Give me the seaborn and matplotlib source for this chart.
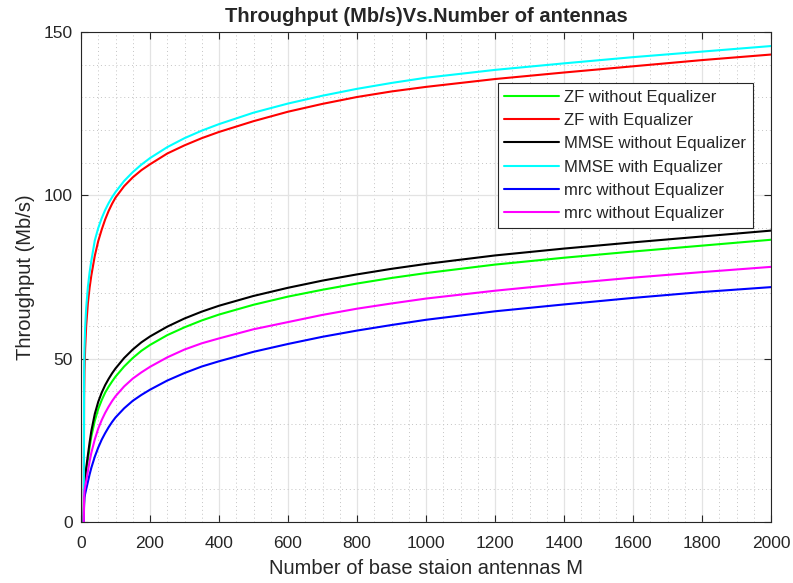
import matplotlib
matplotlib.use("Agg")
import matplotlib.pyplot as plt
import seaborn as sns
from matplotlib.ticker import MultipleLocator

# values
antennas = [8, 9, 10, 12, 15, 20, 25, 30, 40, 50, 60, 70, 80, 90, 100, 125, 150,
            175, 200, 250, 300, 350, 400, 500, 600, 700, 800, 900, 1000, 1200,
            1400, 1600, 1800, 2000]

zf_no_eq = [0, 7.5, 10.5, 12.5, 15.5, 19, 23, 26.2, 31, 34.6, 37.3, 39.6, 41.4,
            43.0, 44.5, 47.6, 50.2, 52.4, 54.2, 57.2, 59.6, 61.7, 63.5, 66.5, 69.0,
            71.1, 73.0, 74.7, 76.2, 78.8, 80.9, 82.8, 84.6, 86.4]
zf_eq = [0, 38, 46, 53, 60, 67, 71.8, 75.5, 81.5, 86, 89.5, 92.6, 95.2, 97.4,
         99.3, 102.8, 105.5, 107.7, 109.5, 112.8, 115.3, 117.5, 119.4, 122.7, 125.6,
         128, 130.1, 131.8, 133.2, 135.6, 137.6, 139.5, 141.4, 143.1]
mmse_no_eq = [0, 8, 11, 13, 16.5, 20.5, 24.4, 27.9, 33.1, 36.8, 39.6, 41.9, 43.8,
              45.5, 47, 50.2, 52.8, 55, 56.8, 59.8, 62.3, 64.4, 66.2, 69.2, 71.7,
              73.9, 75.8, 77.5, 79.0, 81.6, 83.7, 85.6, 87.4, 89.2]
mmse_eq = [0, 45, 53, 59.5, 65.5, 72, 76.5, 80, 86.2, 90, 93, 95.5, 97.6, 99.4,
           101, 104.4, 107.1, 109.4, 111.4, 114.75, 117.5, 119.8, 121.8, 125.3,
           128.1, 130.5, 132.6, 134.4, 136.0, 138.4, 140.4, 142.3, 144.0, 145.7]
mrc_a = [0, 5.5, 7.5, 8.6, 10, 12.3, 14.6, 16.6, 20.0, 22.8, 25.2, 27.2, 29.0,
         30.6, 32, 34.8, 37.1, 38.9, 40.5, 43.3, 45.6, 47.6, 49.2, 52.1, 54.5,
         56.7, 58.6, 60.3, 61.9, 64.5, 66.6, 68.6, 70.4, 71.9]
mrc_b = [0, 7, 9.5, 10.8, 12.5, 15.6, 18.6, 21.2, 25.3, 28.6, 31.2, 33.4, 35.3,
         37.0, 38.5, 41.5, 43.9, 45.8, 47.5, 50.4, 52.8, 54.7, 56.2, 59.0, 61.2,
         63.4, 65.3, 66.9, 68.4, 70.8, 72.9, 74.8, 76.5, 78.1]

labels = ["ZF without Equalizer", "ZF with Equalizer", "MMSE without Equalizer",
          "MMSE with Equalizer", "mrc without Equalizer", "mrc without Equalizer"]
series = [zf_no_eq, zf_eq, mmse_no_eq, mmse_eq, mrc_a, mrc_b]
colors = ["#00ff00", "#ff0000", "#000000", "#00ffff", "#0000ff", "#ff00ff"]

sns.set_style("ticks")
plt.rcParams["font.family"] = ["Liberation Sans", "DejaVu Sans"]

fig = plt.figure(figsize=(7.93, 5.83), dpi=100)
ax = fig.add_axes([81 / 793, 61 / 583, 690 / 793, 490 / 583])

for vals, lab, col in zip(series, labels, colors):
    sns.lineplot(x=antennas, y=vals, color=col, label=lab, linewidth=1.5, ax=ax)

ax.set_xlim(0, 2000)
ax.set_ylim(0, 150)
ax.xaxis.set_major_locator(MultipleLocator(200))
ax.yaxis.set_major_locator(MultipleLocator(50))
ax.xaxis.set_minor_locator(MultipleLocator(50))
ax.yaxis.set_minor_locator(MultipleLocator(10))

# grid like matlab: solid major, dotted minor
ax.grid(which="major", color="#e3e3e3", linewidth=0.9, linestyle="-")
ax.grid(which="minor", color="#c4c4c4", linewidth=0.7, linestyle=(0, (1, 3)))
ax.set_axisbelow(True)

ax.tick_params(which="major", direction="in", length=5, width=0.8,
               top=True, right=True, labelsize=12.5, colors="#262626")
ax.tick_params(axis="x", pad=10)
ax.tick_params(axis="y", pad=6)
ax.tick_params(which="minor", length=0)
for sp in ax.spines.values():
    sp.set_color("#262626")
    sp.set_linewidth(0.8)

ax.set_title("Throughput (Mb/s)Vs.Number of antennas", fontsize=14.5,
             fontweight="bold", pad=7)
ax.set_xlabel("Number of base staion antennas M", fontsize=14.5, color="#262626",
              labelpad=6)
ax.set_ylabel("Throughput (Mb/s)", fontsize=14.5, color="#262626", labelpad=6)

leg = ax.legend(loc="upper right", bbox_to_anchor=(0.974, 0.896), fontsize=12,
                frameon=True, fancybox=False, framealpha=1, edgecolor="#262626",
                handlelength=3.3, handletextpad=0.3, labelspacing=0.5,
                borderpad=0.4, borderaxespad=0)
leg.get_frame().set_linewidth(0.8)

fig.savefig("out.png", dpi=100)
